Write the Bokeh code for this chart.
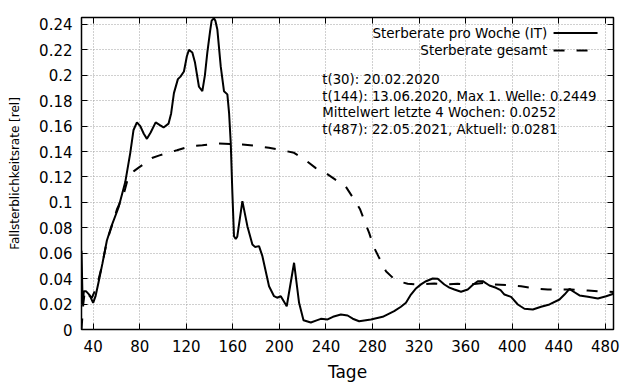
from bokeh.plotting import figure
from bokeh.models import Range1d, FixedTicker, LinearAxis, Label, Arrow
from bokeh.embed import file_html
from bokeh.resources import INLINE

# ---- data ----
week_days = [30, 31, 32, 34, 37, 40, 42, 44.6, 48, 51.8, 56, 61.8, 67.6, 71.9, 74.7, 77.6, 80.5, 83.5,
             86.2, 89.4, 93.7, 97, 100.5, 104.8, 107, 109.4, 112.8, 115, 118, 120.5, 122.3, 125.2, 127.5,
             130.9, 133.8, 136, 138.1, 140.5, 141.8, 143.8, 145, 146.7, 149.6, 152.4, 155.3, 156.8, 158.2,
             159.6, 161, 162.5, 163.8, 168.2, 172.5, 176.8, 179, 182.5, 185.4, 191.1, 195.4, 198, 201.2,
             206.3, 212.6, 216.9, 220.7, 227, 232, 235.6, 241.4, 246, 252.8, 258.6, 263, 268.5, 278.6,
             288.7, 298.6, 304.4, 308.7, 313, 317, 321.6, 326, 331.7, 336, 341.7, 346, 350.3, 356, 361.8,
             366, 370.4, 374.7, 380.4, 386.1, 390, 393.3, 399, 404.8, 410.5, 417.7, 424.8, 432, 440.6,
             444.9, 449.2, 452.1, 457.8, 465, 473.6, 480.7, 487]
week_rate = [0.062, 0.02, 0.03, 0.03, 0.027, 0.021, 0.026, 0.037, 0.052, 0.07, 0.082, 0.096, 0.116, 0.139,
             0.157, 0.163, 0.16, 0.154, 0.150, 0.155, 0.163, 0.161, 0.159, 0.162, 0.17, 0.186, 0.197, 0.199,
             0.203, 0.215, 0.22, 0.218, 0.21, 0.191, 0.1875, 0.2, 0.218, 0.235, 0.243, 0.2449, 0.243, 0.236,
             0.207, 0.1875, 0.185, 0.17, 0.147, 0.1075, 0.0734, 0.0713, 0.073, 0.101, 0.0813, 0.0669, 0.065,
             0.0656, 0.0577, 0.034, 0.0262, 0.025, 0.0262, 0.0183, 0.0525, 0.021, 0.0073, 0.0055, 0.0072,
             0.0084, 0.0079, 0.01, 0.0118, 0.011, 0.0085, 0.0065, 0.0079, 0.01, 0.0144, 0.0179, 0.021,
             0.0275, 0.032, 0.0355, 0.038, 0.0401, 0.0399, 0.0354, 0.033, 0.0315, 0.0297, 0.0315, 0.035,
             0.038, 0.038, 0.0346, 0.0328, 0.031, 0.0275, 0.0257, 0.0197, 0.0163, 0.0157, 0.0179, 0.0197,
             0.0236, 0.0275, 0.032, 0.0301, 0.0268, 0.0257, 0.0244, 0.0262, 0.0281]

total_days = [30, 31.5, 33, 35, 38.9, 43.2, 47.5, 51.8, 56, 60.4, 66.1, 70.4, 75, 80, 84.8, 90.5, 97, 103.5,
              112, 123.8, 133.8, 148, 158, 168.2, 178.2, 191, 199.7, 212.6, 219.8, 231.3, 238.4, 250, 257.1,
              264.2, 269.4, 274.3, 277.1, 281.4, 285.7, 291.5, 298.1, 304, 310.2, 318.8, 333.1, 343.1, 353.2,
              363.2, 376.1, 384.7, 399, 407.6, 420.5, 430.6, 442, 450.6, 465, 473.6, 487]
total_rate = [0.0, 0.02, 0.031, 0.028, 0.025, 0.034, 0.0498, 0.0695, 0.0813, 0.0944, 0.106, 0.1206, 0.1246,
              0.128, 0.131, 0.135, 0.137, 0.139, 0.141, 0.1443, 0.145, 0.1463, 0.146, 0.1456, 0.1446, 0.143,
              0.1416, 0.139, 0.135, 0.127, 0.124, 0.1167, 0.1123, 0.1023, 0.0944, 0.0826, 0.076, 0.0643,
              0.0564, 0.0459, 0.0401, 0.0375, 0.036, 0.0354, 0.0362, 0.0354, 0.036, 0.0354, 0.0367, 0.0354,
              0.0349, 0.034, 0.0322, 0.0315, 0.0315, 0.0315, 0.0307, 0.0301, 0.0295]

x_ticks = [40, 80, 120, 160, 200, 240, 280, 320, 360, 400, 440, 480]
y_ticks = [0, 0.02, 0.04, 0.06, 0.08, 0.1, 0.12, 0.14, 0.16, 0.18, 0.2, 0.22, 0.24]
y_tick_labels = ["0", "0.02", "0.04", "0.06", "0.08", "0.1", "0.12", "0.14", "0.16", "0.18", "0.2", "0.22", "0.24"]

series_names = ["Sterberate pro Woche (IT)", "Sterberate gesamt"]
info_lines = ["t(30): 20.02.2020",
              "t(144): 13.06.2020, Max 1. Welle: 0.2449",
              "Mittelwert letzte 4 Wochen: 0.0252",
              "t(487): 22.05.2021, Aktuell: 0.0281"]

FONT = "DejaVu Sans"

p = figure(width=640, height=384, output_backend="svg", toolbar_location=None,
           x_range=Range1d(30, 487), y_range=Range1d(0, 0.2455),
           min_border_left=81, min_border_right=27, min_border_top=17, min_border_bottom=54)
p.background_fill_color = "white"
p.border_fill_color = "white"
p.outline_line_color = "black"
p.outline_line_width = 1.5

# grids
p.xgrid.ticker = FixedTicker(ticks=x_ticks)
p.ygrid.ticker = FixedTicker(ticks=y_ticks)
for g in (p.xgrid, p.ygrid):
    g.grid_line_color = "#a0a0a0"
    g.grid_line_dash = "1 2"
    g.grid_line_width = 1

# main axes
p.xaxis.ticker = FixedTicker(ticks=x_ticks)
p.yaxis.ticker = FixedTicker(ticks=y_ticks)
p.yaxis.major_label_overrides = {v: s for v, s in zip(y_ticks, y_tick_labels)}
for ax in (p.xaxis[0], p.yaxis[0]):
    ax.axis_line_color = None
    ax.major_tick_in = 6
    ax.major_tick_out = 0
    ax.major_tick_line_color = "black"
    ax.major_tick_line_width = 1
    ax.minor_tick_line_color = None
    ax.major_label_text_font = FONT
    ax.major_label_text_font_size = "15px"
    ax.major_label_text_color = "black"
    ax.axis_label_text_font = FONT
    ax.axis_label_text_font_style = "normal"
    ax.axis_label_text_color = "black"

p.xaxis.axis_label = "Tage"
p.xaxis.axis_label_text_font_size = "17px"
p.xaxis.major_label_standoff = 10
p.xaxis.axis_label_standoff = 7
p.yaxis.axis_label = "Fallsterblichkeitsrate [rel]"
p.yaxis.axis_label_text_font_size = "12px"
p.yaxis.major_label_standoff = 9
p.yaxis.axis_label_standoff = 14

# mirror ticks (no labels)
top = LinearAxis(ticker=FixedTicker(ticks=x_ticks))
right = LinearAxis(ticker=FixedTicker(ticks=y_ticks))
for ax in (top, right):
    ax.axis_line_color = None
    ax.major_tick_in = 6
    ax.major_tick_out = 0
    ax.major_tick_line_color = "black"
    ax.minor_tick_line_color = None
    ax.major_label_text_font_size = "1px"
    ax.major_label_text_color = None
    ax.major_label_standoff = 0
p.add_layout(top, "above")
p.add_layout(right, "right")

# curves
p.line(week_days, week_rate, line_color="black", line_width=2)
p.line(total_days, total_rate, line_color="black", line_width=2, line_dash="11 12")

# legend (gnuplot style: text then sample)
legend_text_x = 430.1
legend_y = [0.2333, 0.2196]
legend_dash = ["solid", "11 12"]
for name, yy, dash in zip(series_names, legend_y, legend_dash):
    p.add_layout(Label(x=legend_text_x, y=yy, text=name, text_align="right", text_baseline="middle",
                       text_font=FONT, text_font_size="13.5px", text_color="black"))
    p.add_layout(Arrow(end=None, x_start=435.5, y_start=yy, x_end=473.3, y_end=yy,
                       line_color="black", line_width=2, line_dash=dash))

# info text
info_y = [0.1966, 0.1835, 0.1704, 0.1573]
for line, yy in zip(info_lines, info_y):
    p.add_layout(Label(x=236.8, y=yy, text=line, text_align="left", text_baseline="middle",
                       text_font=FONT, text_font_size="13.3px", text_color="black"))

open("out.html", "w").write(file_html(p, INLINE))
